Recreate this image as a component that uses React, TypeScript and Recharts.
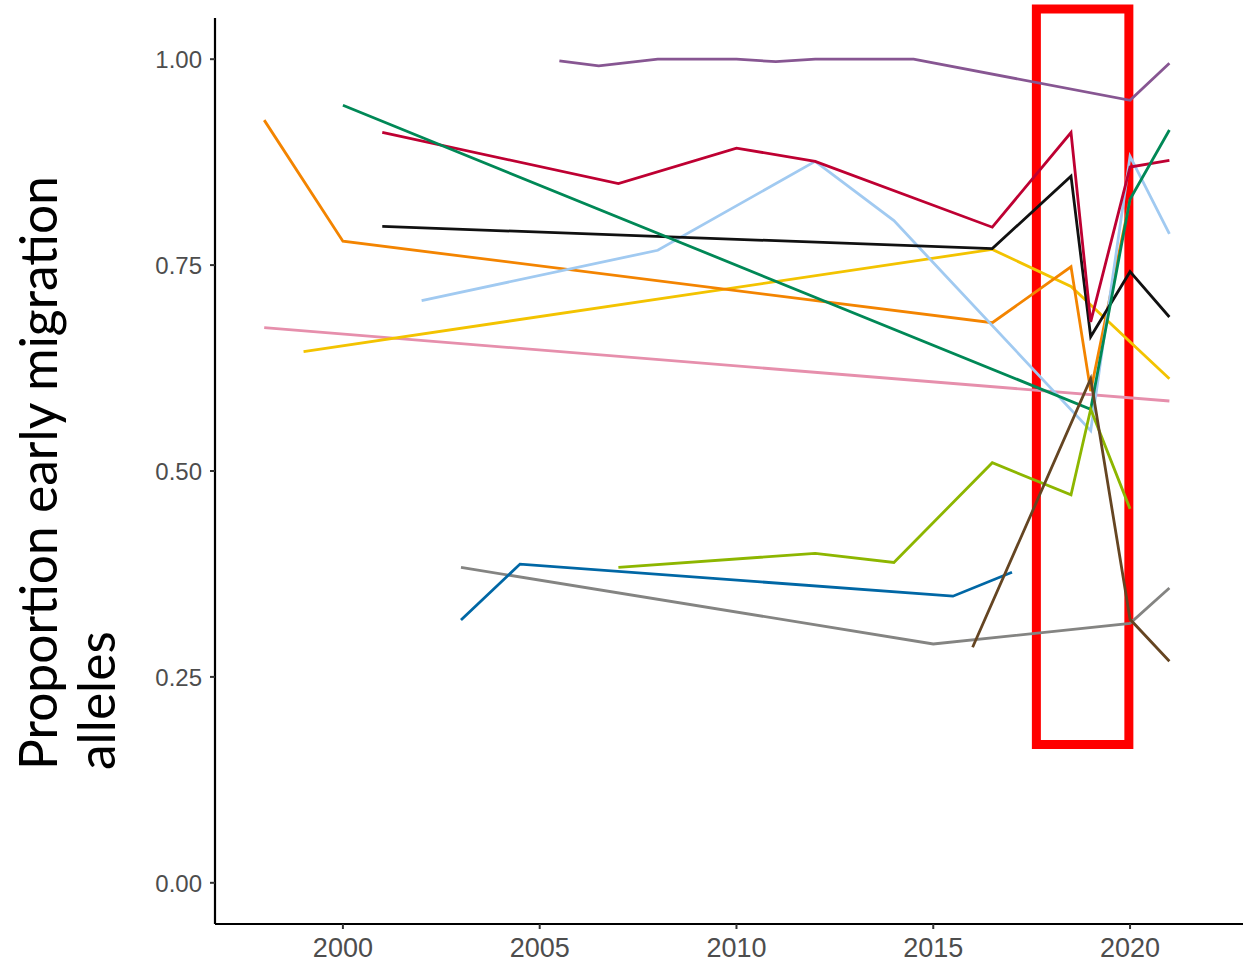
import React from "react";
import { LineChart, Line, XAxis, YAxis, ReferenceArea } from "recharts";

// ---- data (year, proportion) per population ----
const pinkYears = [1998, 2021];
const pinkValues = [0.674, 0.585];
const yellowYears = [1999, 2016.5, 2018.5, 2021];
const yellowValues = [0.645, 0.769, 0.724, 0.612];
const orangeYears = [1998, 2000, 2016.5, 2018.5, 2019, 2020];
const orangeValues = [0.926, 0.779, 0.68, 0.748, 0.597, 0.83];
const lightBlueYears = [2002, 2008, 2012, 2014, 2019, 2020, 2021];
const lightBlueValues = [0.707, 0.768, 0.876, 0.804, 0.549, 0.882, 0.788];
const blackYears = [2001, 2016.5, 2018.5, 2019, 2020, 2021];
const blackValues = [0.797, 0.77, 0.858, 0.663, 0.742, 0.687];
const redYears = [2001, 2007, 2010, 2012, 2016.5, 2018.5, 2019, 2020, 2021];
const redValues = [0.911, 0.849, 0.892, 0.876, 0.796, 0.911, 0.681, 0.869, 0.877];
const greenYears = [2000, 2019, 2020, 2021];
const greenValues = [0.944, 0.575, 0.83, 0.914];
const purpleYears = [2005.5, 2006.5, 2008, 2010, 2011, 2012, 2014.5, 2020, 2021];
const purpleValues = [0.998, 0.992, 1.0, 1.0, 0.997, 1.0, 1.0, 0.95, 0.995];
const grayYears = [2003, 2015, 2020, 2021];
const grayValues = [0.383, 0.29, 0.315, 0.358];
const blueYears = [2003, 2004.5, 2015.5, 2017];
const blueValues = [0.319, 0.387, 0.348, 0.377];
const yellowGreenYears = [2007, 2012, 2014, 2016.5, 2018.5, 2019, 2020];
const yellowGreenValues = [0.383, 0.4, 0.389, 0.51, 0.471, 0.575, 0.454];
const brownYears = [2016, 2019, 2020, 2021];
const brownValues = [0.286, 0.612, 0.32, 0.269];

const xTicks = [2000, 2005, 2010, 2015, 2020];
const yTicks = [0, 0.25, 0.5, 0.75, 1];

const highlightX = [2017.62, 2019.97];
const highlightY = [0.168, 1.061];

const titleLine1 = "Proportion early migration";
const titleLine2 = "alleles";

const zip = (xs: number[], ys: number[]) => xs.map((x, i) => ({ year: x, value: ys[i] }));

const series = [
  { name: "pink", color: "#E68FAC", data: zip(pinkYears, pinkValues) },
  { name: "yellow", color: "#F3C300", data: zip(yellowYears, yellowValues) },
  { name: "orange", color: "#F38400", data: zip(orangeYears, orangeValues) },
  { name: "lightblue", color: "#A1CAF1", data: zip(lightBlueYears, lightBlueValues) },
  { name: "black", color: "#111111", data: zip(blackYears, blackValues) },
  { name: "red", color: "#BE0032", data: zip(redYears, redValues) },
  { name: "green", color: "#008856", data: zip(greenYears, greenValues) },
  { name: "purple", color: "#875692", data: zip(purpleYears, purpleValues) },
  { name: "gray", color: "#848482", data: zip(grayYears, grayValues) },
  { name: "blue", color: "#0067A5", data: zip(blueYears, blueValues) },
  { name: "yellowgreen", color: "#8DB600", data: zip(yellowGreenYears, yellowGreenValues) },
  { name: "brown", color: "#654522", data: zip(brownYears, brownValues) },
];

const tickFont = "'Liberation Sans', Arial, sans-serif";

const XTick = (props: any) => {
  const { x, y, payload } = props;
  return (
    <text x={x} y={y + 26} textAnchor="middle" fill="#4D4D4D" fontSize={27} fontFamily={tickFont}>
      {payload.value}
    </text>
  );
};

const YTick = (props: any) => {
  const { x, y, payload } = props;
  return (
    <text x={x} y={y + 9} textAnchor="end" fill="#4D4D4D" fontSize={24} fontFamily={tickFont}>
      {Number(payload.value).toFixed(2)}
    </text>
  );
};

const TitleLabel = () => (
  <g>
    <text
      transform="translate(57,770) rotate(-90)"
      textAnchor="start"
      fontSize={51.5}
      fill="#000"
      fontFamily="Lato, 'Open Sans', sans-serif"
    >
      {titleLine1}
    </text>
    <text
      transform="translate(115,770) rotate(-90)"
      textAnchor="start"
      fontSize={51.5}
      fill="#000"
      fontFamily="Lato, 'Open Sans', sans-serif"
    >
      {titleLine2}
    </text>
  </g>
);

export default function App() {
  return (
    <div style={{ position: "absolute", left: 0, top: 0, background: "#fff" }}>
      <LineChart width={1246} height={966} margin={{ top: 18, right: 3, bottom: 0, left: 0 }}>
        <XAxis
          type="number"
          dataKey="year"
          domain={[1996.75, 2022.87]}
          ticks={xTicks}
          allowDataOverflow
          height={42}
          tick={<XTick />}
          tickSize={5}
          axisLine={{ stroke: "#000", strokeWidth: 2.2 }}
          tickLine={{ stroke: "#333", strokeWidth: 2 }}
        />
        <YAxis
          type="number"
          dataKey="value"
          domain={[-0.05, 1.05]}
          ticks={yTicks}
          allowDataOverflow
          width={215}
          tick={<YTick />}
          tickSize={5}
          tickMargin={8}
          axisLine={{ stroke: "#000", strokeWidth: 2.2 }}
          tickLine={{ stroke: "#333", strokeWidth: 2 }}
          label={{ content: <TitleLabel /> }}
        />
        {series.map((s) => (
          <Line
            key={s.name}
            data={s.data}
            dataKey="value"
            type="linear"
            stroke={s.color}
            strokeWidth={2.8}
            dot={false}
            activeDot={false}
            isAnimationActive={false}
          />
        ))}
        <ReferenceArea
          x1={highlightX[0]}
          x2={highlightX[1]}
          y1={highlightY[0]}
          y2={highlightY[1]}
          ifOverflow="visible"
          fill="none"
          fillOpacity={0}
          stroke="#FF0000"
          strokeWidth={9}
        />
      </LineChart>
    </div>
  );
}
